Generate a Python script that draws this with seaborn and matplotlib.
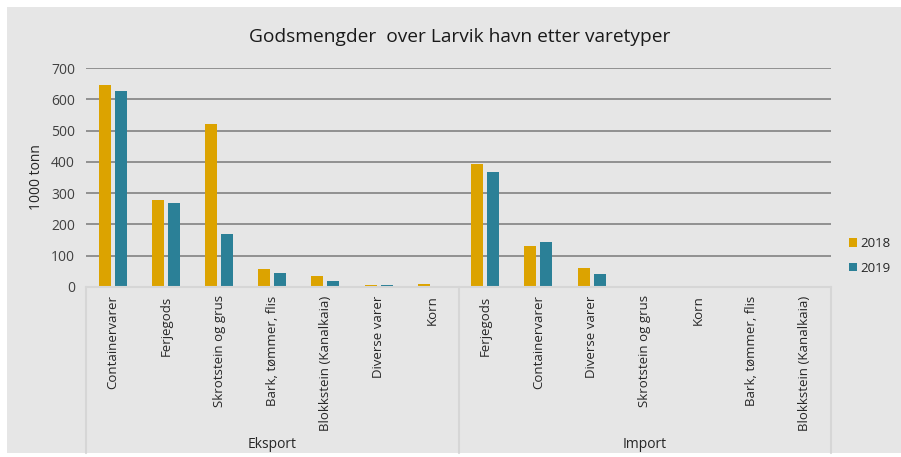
import matplotlib
matplotlib.use("Agg")
import matplotlib.pyplot as plt
from matplotlib.patches import Rectangle
import seaborn as sns
import pandas as pd

# Goods volumes through Larvik port, 1000 tonnes
groups = ["Eksport", "Import"]
eksport_types = ["Containervarer", "Ferjegods", "Skrotstein og grus",
                 "Bark, tømmer, flis", "Blokkstein (Kanalkaia)", "Diverse varer", "Korn"]
import_types = ["Ferjegods", "Containervarer", "Diverse varer", "Skrotstein og grus",
                "Korn", "Bark, tømmer, flis", "Blokkstein (Kanalkaia)"]
eksport_2018 = [646, 277, 520, 57, 35, 5, 8]
eksport_2019 = [628, 267, 170, 45, 20, 7, 0]
import_2018 = [393, 130, 62, 0, 0, 0, 0]
import_2019 = [367, 143, 40, 0, 0, 0, 0]
years = ["2018", "2019"]
yticks = [0, 100, 200, 300, 400, 500, 600, 700]

rows = []
for grp, types, v18, v19 in [("Eksport", eksport_types, eksport_2018, eksport_2019),
                             ("Import", import_types, import_2018, import_2019)]:
    for t, a, b in zip(types, v18, v19):
        key = f"{grp}|{t}"
        rows.append({"key": key, "År": years[0], "Verdi": a})
        rows.append({"key": key, "År": years[1], "Verdi": b})
df = pd.DataFrame(rows)
order = [f"Eksport|{t}" for t in eksport_types] + [f"Import|{t}" for t in import_types]

sns.set_theme(style="white")
plt.rcParams["font.family"] = ["Open Sans", "DejaVu Sans"]

W, H = 901, 457
fig = plt.figure(figsize=(W / 100, H / 100), dpi=100, facecolor="white")
bg = "#E6E6E6"
fig.patches.append(Rectangle((7 / W, 4 / H), 1 - 7 / W, (453 - 7) / H,
                             transform=fig.transFigure, facecolor=bg,
                             edgecolor="none", zorder=-10))

ax_l, ax_r = 86 / W, 831 / W
ax_b, ax_t = (H - 287) / H, (H - 68) / H
ax = fig.add_axes([ax_l, ax_b, ax_r - ax_l, ax_t - ax_b])
ax.set_facecolor("none")

palette = {"2018": "#DCA300", "2019": "#2B8097"}
sns.barplot(data=df, x="key", y="Verdi", hue="År", order=order, hue_order=years,
            palette=palette, width=0.6, gap=0.25, saturation=1, linewidth=0,
            ax=ax, zorder=3)

ax.set_ylim(0, 700)
ax.set_xlim(-0.5, len(order) - 0.5)
ax.set_yticks(yticks)
ax.set_yticklabels([str(v) for v in yticks], fontsize=10, color="#404040")
ax.yaxis.grid(True, color="#8A8A8A", linewidth=1.3, zorder=0)
ax.tick_params(axis="y", length=0, pad=8)
for s in ax.spines.values():
    s.set_visible(False)

ax.set_xticks(range(len(order)))
ax.set_xticklabels([k.split("|")[1] for k in order], rotation=90, fontsize=9.5,
                   color="#262626", va="top")
ax.tick_params(axis="x", length=0, pad=6)
ax.set_xlabel("")
ax.set_ylabel("")
fig.text(37 / W, (H - 177) / H, "1000 tonn", rotation=90, ha="center",
         va="center", fontsize=10, color="#262626")

# Category axis: baseline and group separators
sep = "#D6D6D6"
base_y = (H - 287) / H
bottom_y = (H - 453) / H
fig.add_artist(plt.Line2D([ax_l, ax_r], [base_y, base_y], color=sep, lw=1.5,
                          transform=fig.transFigure, zorder=1))
n = len(order)
for i in [0, len(eksport_types), n]:
    xf = ax_l + (ax_r - ax_l) * i / n
    fig.add_artist(plt.Line2D([xf, xf], [bottom_y, base_y], color=sep, lw=1.5,
                              transform=fig.transFigure, zorder=1))

for gi, grp in enumerate(groups):
    start = gi * len(eksport_types)
    cx = ax_l + (ax_r - ax_l) * (start + len(eksport_types) / 2) / n
    fig.text(cx, (H - 445) / H, grp, ha="center", va="center", fontsize=10,
             color="#262626")

fig.text(460 / W, (H - 37) / H, "Godsmengder  over Larvik havn etter varetyper",
         ha="center", va="center", fontsize=13.8, color="#1A1A1A")

leg = ax.legend(loc="center left", bbox_to_anchor=(849 / W, (H - 256) / H),
                bbox_transform=fig.transFigure, frameon=False, fontsize=9.5,
                handlelength=0.6, handleheight=0.6, handletextpad=0.25,
                labelspacing=0.9, borderpad=0, borderaxespad=0, title=None)
for t in leg.get_texts():
    t.set_color("#262626")

fig.savefig("out.png", dpi=100, facecolor="white")
